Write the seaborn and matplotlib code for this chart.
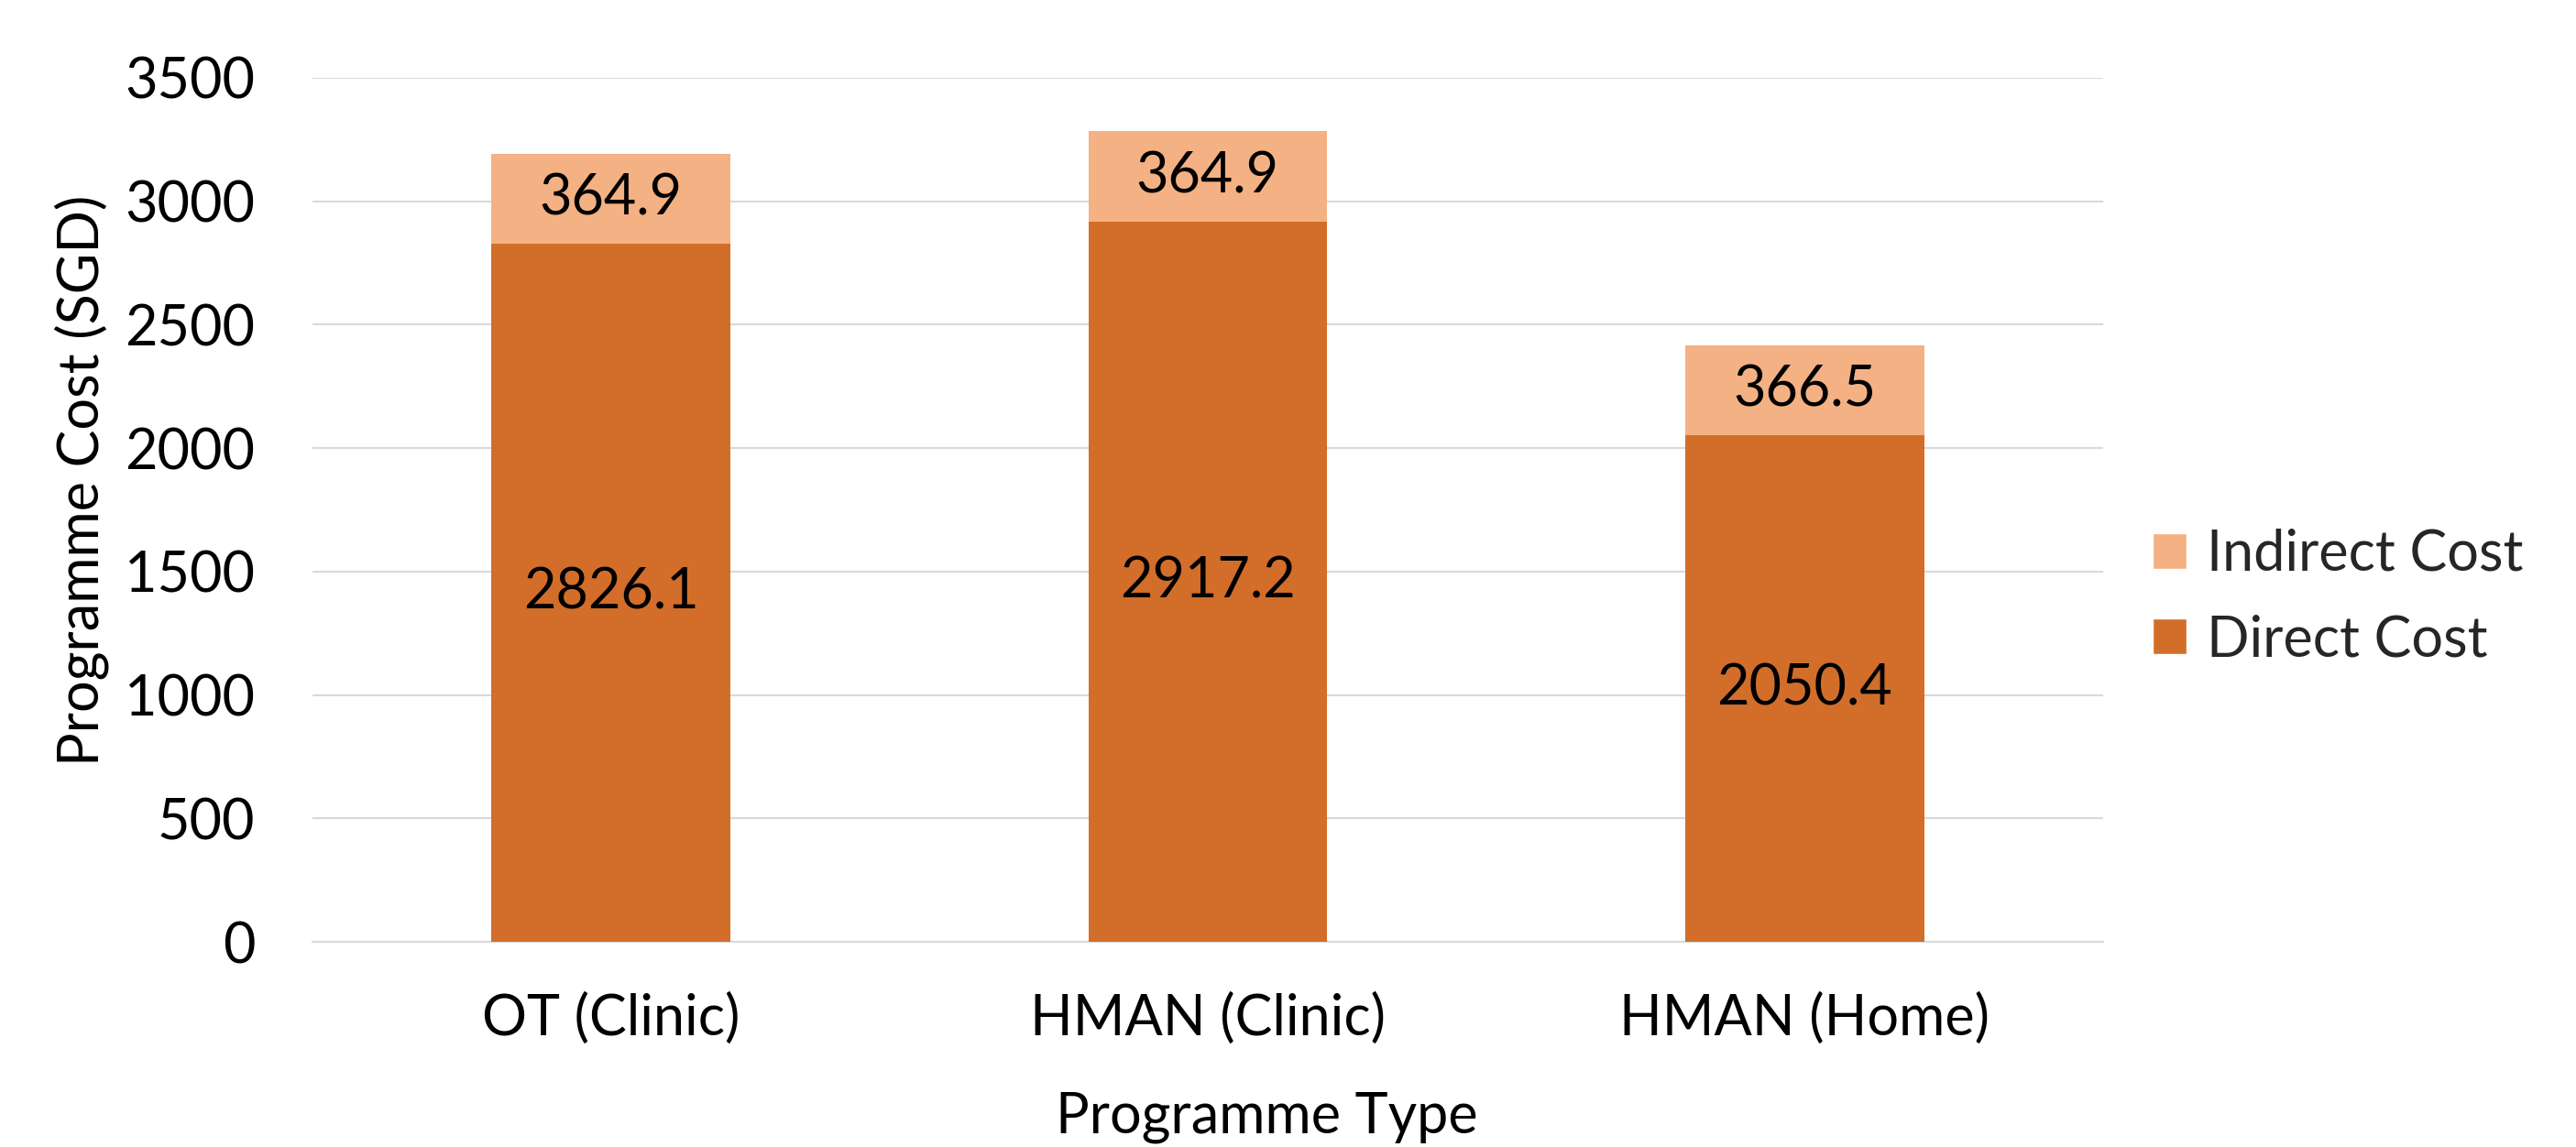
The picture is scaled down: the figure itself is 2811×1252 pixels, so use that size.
import matplotlib
matplotlib.use("Agg")
import matplotlib.pyplot as plt
from matplotlib.patches import Patch
import seaborn as sns
import pandas as pd

# Programme cost breakdown (SGD)
programmes = ["OT (Clinic)", "HMAN (Clinic)", "HMAN (Home)"]
direct_cost = [2826.1, 2917.2, 2050.4]
indirect_cost = [364.9, 364.9, 366.5]
y_ticks = [0, 500, 1000, 1500, 2000, 2500, 3000, 3500]

DIRECT_COLOR = "#D26E2A"
INDIRECT_COLOR = "#F4B183"
GRID_COLOR = "#D9D9D9"
FONT_SIZE = 44

sns.set_theme(style="white")
plt.rcParams["font.family"] = ["Lato", "DejaVu Sans"]

df = pd.DataFrame({
    "Programme": programmes,
    "Direct": direct_cost,
    "Indirect": indirect_cost,
})
df["Total"] = df["Direct"] + df["Indirect"]

fig = plt.figure(figsize=(28.11, 12.52), dpi=100)
ax = fig.add_axes([0.1213, 0.1789, 0.6951, 0.7534])

# Stacked bars: total (indirect on top) drawn first, direct over it
sns.barplot(data=df, x="Programme", y="Total", order=programmes,
            color=INDIRECT_COLOR, saturation=1, width=0.4, ax=ax, zorder=2,
            linewidth=0, edgecolor="none")
sns.barplot(data=df, x="Programme", y="Direct", order=programmes,
            color=DIRECT_COLOR, saturation=1, width=0.4, ax=ax, zorder=3,
            linewidth=0, edgecolor="none")

# Value labels centred in each segment
for i, (d, ind) in enumerate(zip(direct_cost, indirect_cost)):
    ax.text(i, d / 2, f"{d:.1f}", ha="center", va="center",
            fontsize=FONT_SIZE, color="black", zorder=4)
    ax.text(i, d + ind / 2, f"{ind:.1f}", ha="center", va="center",
            fontsize=FONT_SIZE, color="black", zorder=4)

ax.set_xlim(-0.5, 2.5)
ax.set_ylim(0, 3500)
ax.set_yticks(y_ticks)
ax.set_yticklabels([str(v) for v in y_ticks])
ax.yaxis.grid(True, color=GRID_COLOR, linewidth=1.5, zorder=0)
ax.set_axisbelow(True)

for side in ["top", "right", "left"]:
    ax.spines[side].set_visible(False)
ax.spines["bottom"].set_color(GRID_COLOR)
ax.spines["bottom"].set_linewidth(1.5)

ax.tick_params(axis="y", length=0, pad=45, labelsize=FONT_SIZE, colors="black")
ax.tick_params(axis="x", length=0, pad=40, labelsize=FONT_SIZE, colors="black")

ax.set_xlabel("Programme Type", fontsize=FONT_SIZE, color="black")
ax.xaxis.label.set_va("baseline")
ax.xaxis.set_label_coords(0.533, -0.221)

ax.set_ylabel("Programme Cost (SGD)", fontsize=FONT_SIZE, color="black")
ax.yaxis.label.set_va("center")
ax.yaxis.set_label_coords(-0.129, 0.534)

handles = [Patch(facecolor=INDIRECT_COLOR, label="Indirect Cost"),
           Patch(facecolor=DIRECT_COLOR, label="Direct Cost")]
fig.legend(handles=handles, loc="center left",
           bbox_to_anchor=(2349 / 2811, 1 - 652 / 1252),
           frameon=False, fontsize=FONT_SIZE, handlelength=0.6,
           handleheight=0.6, handletextpad=0.36, labelspacing=0.59,
           borderpad=0, borderaxespad=0)

fig.savefig("out.png", dpi=100)
